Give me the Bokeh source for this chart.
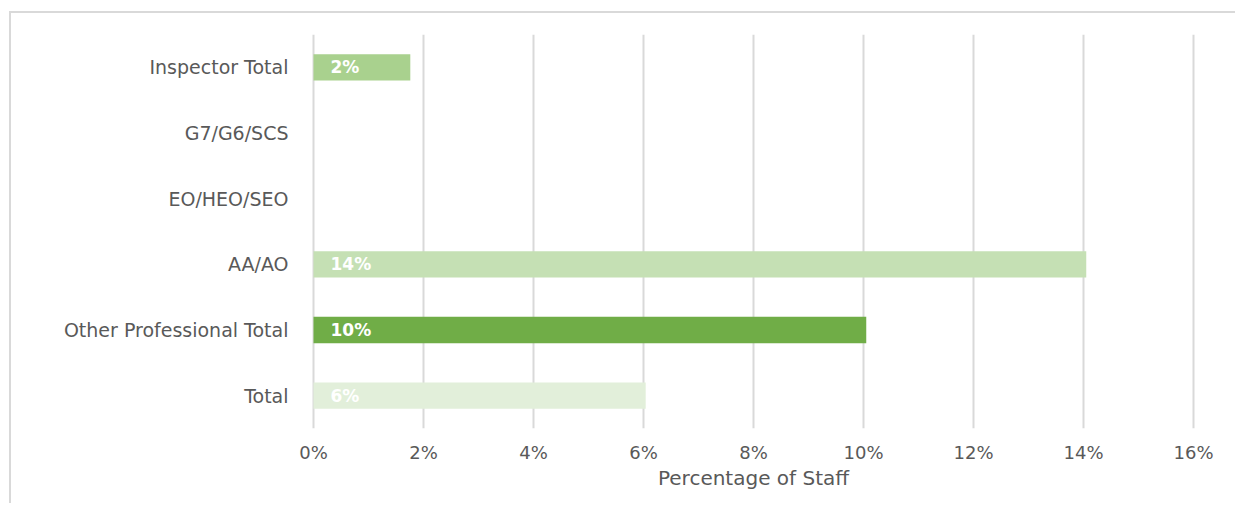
from bokeh.plotting import figure
from bokeh.models import ColumnDataSource, FactorRange, Range1d, FixedTicker, PrintfTickFormatter
from bokeh.core.properties import value
from bokeh.embed import file_html
from bokeh.resources import INLINE

categories = ["Inspector Total", "G7/G6/SCS", "EO/HEO/SEO", "AA/AO", "Other Professional Total", "Total"]
values = [1.76, 0.0, 0.0, 14.05, 10.05, 6.04]
labels = ["2%", "", "", "14%", "10%", "6%"]
colors = ["#A9D18E", "#C5E0B4", "#C5E0B4", "#C5E0B4", "#70AD47", "#E2EFDA"]
ticks = [0, 2, 4, 6, 8, 10, 12, 14, 16]

FONT = "DejaVu Sans"

src = ColumnDataSource(dict(cat=categories, val=values, lab=labels, col=colors,
                            zero=[0.0] * len(categories)))

p = figure(width=1226, height=492, output_backend="svg", toolbar_location=None,
           y_range=FactorRange(*list(reversed(categories)), range_padding=0),
           x_range=Range1d(-0.2, 16.2),
           min_border_left=291, min_border_right=33, min_border_top=21, min_border_bottom=77)
p.margin = (11, 0, 0, 9)
p.styles = {"border-top": "2px solid #D9D9D9", "border-left": "2px solid #D9D9D9"}

p.hbar(y="cat", left=0, right="val", height=0.4, fill_color="col", line_color=None, source=src)
p.text(x="zero", y="cat", text="lab", source=src, x_offset=17, text_baseline="middle",
       text_align="left", text_color="white", text_font=value(FONT), text_font_style="bold",
       text_font_size="17px")

p.outline_line_color = None
p.ygrid.grid_line_color = None
p.xgrid.ticker = FixedTicker(ticks=ticks)
p.xgrid.grid_line_color = "#D9D9D9"
p.xgrid.grid_line_width = 2

p.xaxis.ticker = FixedTicker(ticks=ticks)
p.xaxis.formatter = PrintfTickFormatter(format="%d%%")
p.xaxis.axis_line_color = None
p.xaxis.major_tick_line_color = None
p.xaxis.minor_tick_line_color = None
p.xaxis.major_label_text_font = FONT
p.xaxis.major_label_text_font_size = "18px"
p.xaxis.major_label_text_color = "#595959"
p.xaxis.major_label_standoff = 7
p.xaxis.axis_label = "Percentage of Staff"
p.xaxis.axis_label_text_font = FONT
p.xaxis.axis_label_text_font_size = "20px"
p.xaxis.axis_label_text_font_style = "normal"
p.xaxis.axis_label_text_color = "#595959"
p.xaxis.axis_label_standoff = 0

p.yaxis.axis_line_color = None
p.yaxis.major_tick_line_color = None
p.yaxis.minor_tick_line_color = None
p.yaxis.major_label_text_font = FONT
p.yaxis.major_label_text_font_size = "19px"
p.yaxis.major_label_text_color = "#595959"
p.yaxis.major_label_standoff = 8

open("out.html", "w").write(file_html(p, INLINE))
